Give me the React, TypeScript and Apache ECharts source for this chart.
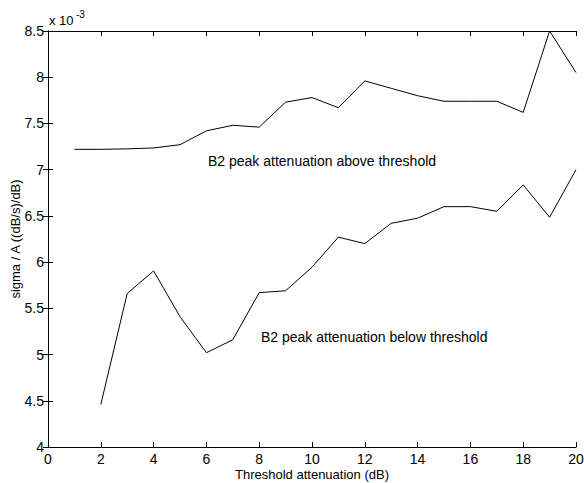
import React, { useEffect, useRef } from "react";
import * as echarts from "echarts";

const thresholds = [1, 2, 3, 4, 5, 6, 7, 8, 9, 10, 11, 12, 13, 14, 15, 16, 17, 18, 19, 20];
const aboveValues = [7.22, 7.22, 7.225, 7.235, 7.27, 7.42, 7.48, 7.46, 7.73, 7.78, 7.67, 7.96, 7.88, 7.8, 7.74, 7.74, 7.74, 7.62, 8.5, 8.05];
const belowThresholds = [2, 3, 4, 5, 6, 7, 8, 9, 10, 11, 12, 13, 14, 15, 16, 17, 18, 19, 20];
const belowValues = [4.46, 5.66, 5.905, 5.41, 5.02, 5.16, 5.67, 5.69, 5.945, 6.27, 6.2, 6.42, 6.475, 6.6, 6.6, 6.55, 6.835, 6.485, 7.0];

const FONT = "'Liberation Sans', Arial, Helvetica, sans-serif";

export default function App() {
  const ref = useRef<HTMLDivElement>(null);
  useEffect(() => {
    if (!ref.current) return;
    const chart = echarts.init(ref.current, undefined, { renderer: "svg" });
    const axisLine = { show: true, lineStyle: { color: "#000", width: 1 } };
    const tick = { show: true, inside: true, length: 5, lineStyle: { color: "#000", width: 1 } };
    chart.setOption({
      animation: false,
      backgroundColor: "#fff",
      grid: { left: 48, right: 8, top: 31, bottom: 36, containLabel: false, outerBoundsMode: "none" },
      xAxis: [
        {
          type: "value",
          min: 0,
          max: 20,
          interval: 2,
          position: "bottom",
          axisLine,
          axisTick: tick,
          splitLine: { show: false },
          axisLabel: { color: "#000", fontSize: 14, fontFamily: FONT, margin: 5, lineHeight: 14 },
          name: "Threshold attenuation (dB)",
          nameLocation: "middle",
          nameGap: 21,
          nameMoveOverlap: false,
          nameTextStyle: { color: "#000", fontSize: 13, fontFamily: FONT, lineHeight: 13 },
        },
        {
          type: "value",
          min: 0,
          max: 20,
          interval: 2,
          position: "top",
          axisLine,
          axisTick: tick,
          splitLine: { show: false },
          axisLabel: { show: false },
        },
      ],
      yAxis: [
        {
          type: "value",
          min: 4,
          max: 8.5,
          interval: 0.5,
          position: "left",
          axisLine,
          axisTick: tick,
          splitLine: { show: false },
          axisLabel: { color: "#000", fontSize: 14, fontFamily: FONT, margin: 4 },
          name: "sigma / A ((dB/s)/dB)",
          nameLocation: "middle",
          nameGap: 26,
          nameMoveOverlap: false,
          nameTextStyle: { color: "#000", fontSize: 13, fontFamily: FONT },
        },
        {
          type: "value",
          min: 4,
          max: 8.5,
          interval: 0.5,
          position: "right",
          axisLine,
          axisTick: tick,
          splitLine: { show: false },
          axisLabel: { show: false },
        },
      ],
      series: [
        {
          type: "line",
          name: "above",
          data: thresholds.map((t, i) => [t, aboveValues[i]]),
          showSymbol: false,
          lineStyle: { color: "#000", width: 1 },
          itemStyle: { color: "#000" },
        },
        {
          type: "line",
          name: "below",
          data: belowThresholds.map((t, i) => [t, belowValues[i]]),
          showSymbol: false,
          lineStyle: { color: "#000", width: 1 },
          itemStyle: { color: "#000" },
        },
      ],
      graphic: [
        {
          type: "text",
          left: 49,
          top: 14,
          style: { text: "x 10", fill: "#000", font: `13px ${FONT}` },
        },
        {
          type: "text",
          left: 76,
          top: 9,
          style: { text: "-3", fill: "#000", font: `10px ${FONT}` },
        },
        {
          type: "text",
          left: 208,
          top: 154,
          style: { text: "B2 peak attenuation above threshold", fill: "#000", font: `14px ${FONT}` },
        },
        {
          type: "text",
          left: 261,
          top: 330,
          style: { text: "B2 peak attenuation below threshold", fill: "#000", font: `14px ${FONT}` },
        },
      ],
    });
    return () => chart.dispose();
  }, []);
  return (
    <div
      ref={ref}
      style={{ position: "fixed", left: 0, top: 0, width: 584, height: 483, background: "#fff" }}
    />
  );
}
